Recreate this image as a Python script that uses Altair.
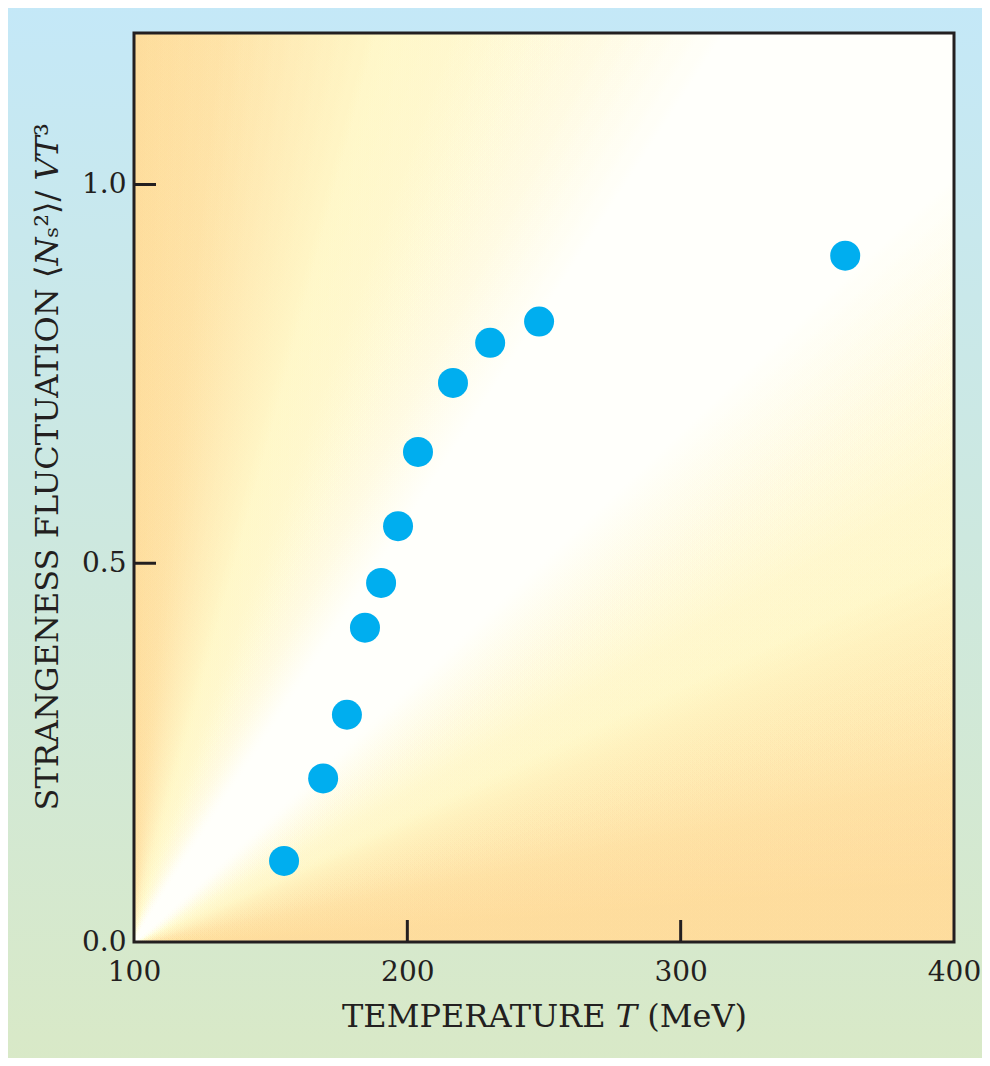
import math
import numpy as np
import altair as alt
import pandas as pd

# ---- data ----
temperature = [154.9, 169.2, 177.9, 184.5, 190.4, 196.6, 203.9, 216.7, 230.3, 248.2, 360.2]
fluctuation = [0.107, 0.216, 0.300, 0.415, 0.474, 0.549, 0.647, 0.738, 0.791, 0.819, 0.906]
x_tick_values = [100, 200, 300, 400]
y_tick_values = [0.0, 0.5, 1.0]
inner_x_ticks = [200, 300]
inner_y_ticks = [0.5, 1.0]

W, H = 820, 909
INK = "#231f20"
FONT = "DejaVu Serif"
ORANGE = (253, 220, 156)
YELLOW = (255, 246, 198)

points = pd.DataFrame({"T": temperature, "F": fluctuation})
xt = pd.DataFrame({"T": inner_x_ticks})
yt = pd.DataFrame({"F": inner_y_ticks})
one = pd.DataFrame({"k": [0]})


def grad(x1, y1, x2, y2, stops):
    return alt.LinearGradient(
        gradient="linear", x1=x1, y1=y1, x2=x2, y2=y2,
        stops=[alt.GradientStop(offset=o, color=c) for o, c in stops],
    )


def rgba(c, a):
    return f"rgba({c[0]},{c[1]},{c[2]},{a:.4f})"


def full_rect(fill, x0=0, x1=W, y0=0, y1=H):
    return alt.Chart(one).mark_rect(fill=fill).encode(
        x=alt.value(x0), x2=alt.value(x1), y=alt.value(y0), y2=alt.value(y1)
    )


def wedge(theta_deg, side, color, alpha, soft=10.0):
    """Tinted half-plane bounded by a line through the plot origin (bottom-left)."""
    th = math.radians(theta_deg)
    if side == "upper":
        n = (-math.sin(th), -math.cos(th))
        m = (-math.sin(th) / H, -math.cos(th) / W)
    else:
        n = (math.sin(th), math.cos(th))
        m = (math.sin(th) / H, math.cos(th) / W)
    ml = math.hypot(*m)
    mu = (m[0] / ml, m[1] / ml)
    d = mu[0] * soft * n[0] / W + mu[1] * soft * n[1] / H
    return full_rect(grad(0, 1, d * mu[0], 1 + d * mu[1],
                          [(0, rgba(color, 0)), (1, rgba(color, alpha))]))


def wedge_stack(side, color, angles, profile_angles, profile_alpha):
    """angles are walked from the untinted side toward the edge."""
    layers = []
    prev = 0.0
    for a in angles:
        target = float(np.interp(a, profile_angles, profile_alpha))
        if target <= prev + 1e-4:
            continue
        step = 1 - (1 - target) / (1 - prev)
        layers.append(wedge(a, side, color, step))
        prev = target
    return layers


xscale = alt.Scale(domain=[100, 400], nice=False, zero=False)
yscale = alt.Scale(domain=[0, 1.2], nice=False, zero=False)

# page background (blue -> green)
page_bg = full_rect(
    grad(0, 0, 0, 1, [(0, "#c4e8f8"), (0.5, "#cde8df"), (1, "#d9e9c6")]),
    -140, W + 40, -40, H + 140,
)
plot_base = full_rect("#fffffb")

# angular tint around the origin: yellow then orange toward both edges
bg_layers = []
bg_layers += wedge_stack("upper", YELLOW, list(range(56, 76)),
                         [56, 62, 70, 76], [0.0, 0.45, 0.85, 1.0])
bg_layers += wedge_stack("upper", ORANGE, list(range(74, 91)),
                         [74, 79, 84, 89], [0.0, 0.35, 0.75, 0.97])
bg_layers += wedge_stack("lower", YELLOW, list(range(44, 22, -1)),
                         [23, 30, 37, 44], [1.0, 0.85, 0.45, 0.0])
bg_layers += wedge_stack("lower", ORANGE, list(range(26, 1, -1)),
                         [5, 12, 19, 26], [0.97, 0.8, 0.4, 0.0])

x_inner = alt.Chart(xt).mark_rule(color=INK, strokeWidth=3).encode(
    x=alt.X("T:Q", scale=xscale), y=alt.value(H), y2=alt.value(H - 22)
)
y_inner = alt.Chart(yt).mark_rule(color=INK, strokeWidth=3).encode(
    y=alt.Y("F:Q", scale=yscale), x=alt.value(0), x2=alt.value(22)
)

dots = alt.Chart(points).mark_circle(size=900, color="#00aeef", opacity=1).encode(
    x=alt.X(
        "T:Q", scale=xscale,
        axis=alt.Axis(
            values=x_tick_values, format="d", title="TEMPERATURE 𝑇 (MeV)",
            titleY=84, titleBaseline="alphabetic", labelPadding=16, labelFlush=False,
            zindex=2,
        ),
    ),
    y=alt.Y(
        "F:Q", scale=yscale,
        axis=alt.Axis(
            values=y_tick_values, format=".1f",
            title="STRANGENESS FLUCTUATION ⟨𝑁ₛ²⟩/ 𝑉𝑇³",
            titleAngle=270, titleAlign="left", titleX=-77, titleY=777,
            titleBaseline="alphabetic", labelPadding=8, labelFlush=False, zindex=2,
        ),
    ),
)

frame = alt.Chart(one).mark_rect(filled=False, stroke=INK, strokeWidth=3).encode(
    x=alt.value(0), x2=alt.value(W), y=alt.value(0), y2=alt.value(H)
)

chart = alt.layer(page_bg, plot_base, *bg_layers, x_inner, y_inner, dots, frame).properties(
    width=W, height=H,
    autosize=alt.AutoSizeParams(type="none"),
    padding={"left": 126, "top": 25, "right": 28, "bottom": 116},
).configure_view(stroke=None).configure_axis(
    domain=False, ticks=False, tickSize=0, grid=False,
    labelFont=FONT, labelFontSize=28, labelColor=INK,
    titleFont=FONT, titleFontSize=32, titleFontWeight="normal", titleColor=INK,
)

chart.save("out.html", embed_options={"renderer": "svg", "actions": False})
